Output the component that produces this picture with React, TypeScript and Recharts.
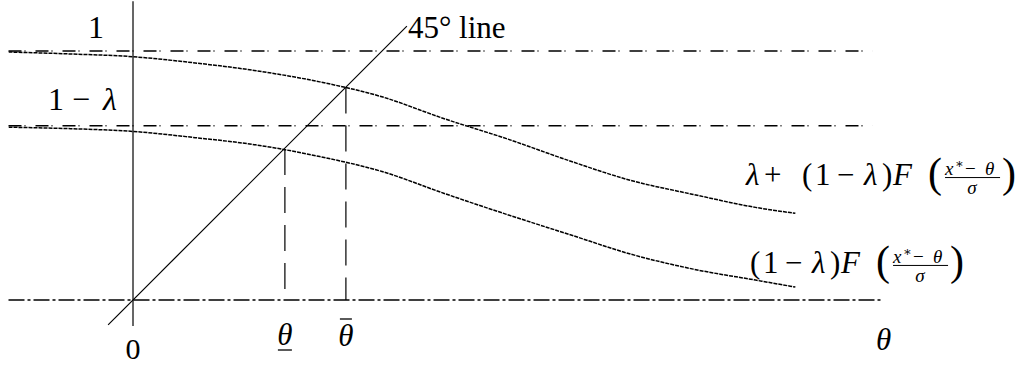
import { LineChart, Line, XAxis, YAxis, ReferenceLine, ReferenceDot } from "recharts"

// values (theta on x, probability on y)
const thetaGrid = [-0.5, -0.25, 0, 0.25, 0.5, 0.75, 1.0, 1.25, 1.5, 1.75, 2.0, 2.25, 2.5, 2.66]
const upperValues = [0.996, 0.988, 0.977, 0.952, 0.92, 0.876, 0.816, 0.728, 0.648, 0.56, 0.48, 0.424, 0.372, 0.348]
const lowerValues = [0.694, 0.688, 0.677, 0.652, 0.622, 0.576, 0.516, 0.428, 0.344, 0.264, 0.184, 0.124, 0.08, 0.052]
const diagonalEnds = [-0.1, 1.1]

const levelOne = 1
const levelOneMinusLambda = 0.7
const thetaLow = 0.61
const thetaLowLevel = 0.606
const thetaHigh = 0.855
const thetaHighLevel = 0.853

const thetaAxisRange = [-0.5, 3.01]
const levelRange = [-0.5, 2.97]
const verticalAxisRange = [-0.104, 1.2]
const curveEnd = 2.66

const upperData = thetaGrid.map((x, i) => ({ x, y: upperValues[i] }))
const lowerData = thetaGrid.map((x, i) => ({ x, y: lowerValues[i] }))
const diagonalData = diagonalEnds.map((v) => ({ x: v, y: v }))

const serif = { fontFamily: "Liberation Serif, DejaVu Serif, serif" }
const T = { fill: "#000", style: serif }

function FracTail({ x0 }: { x0: number }) {
  return (
    <g transform={`translate(${x0},0)`}>
      <text x={0} y={0} fontSize={31} {...T}>(</text>
      <text x={13} y={0} fontSize={31} {...T}>1</text>
      <text x={35} y={0} fontSize={31} {...T}>−</text>
      <text x={62} y={0} fontSize={31} fontStyle="italic" {...T}>λ</text>
      <text x={80} y={0} fontSize={31} {...T}>)</text>
      <text x={91} y={0} fontSize={31} fontStyle="italic" {...T}>F</text>
      <text x={126} y={2} fontSize={42} {...T}>(</text>
      <text x={143} y={-10} fontSize={19} fontStyle="italic" {...T}>x</text>
      <text x={153} y={-17} fontSize={13} {...T}>∗</text>
      <text x={163} y={-10} fontSize={19} {...T}>−</text>
      <text x={183} y={-10} fontSize={19} fontStyle="italic" {...T}>θ</text>
      <line x1={143} x2={198} y1={-7.5} y2={-7.5} stroke="#000" strokeWidth={1} />
      <text x={170} y={9} fontSize={19} fontStyle="italic" textAnchor="middle" {...T}>σ</text>
      <text x={200} y={2} fontSize={42} {...T}>)</text>
    </g>
  )
}

const at = (dx: number, dy: number, body: React.ReactNode) => (p: any) => (
  <g transform={`translate(${p.cx + dx},${p.cy + dy})`}>{body}</g>
)

export default function App() {
  return (
    <div style={{ position: "absolute", left: 0, top: 0 }}>
      <LineChart width={1019} height={367} margin={{ top: 1.2, right: 134, bottom: 17.2, left: 8.5 }}>
        <XAxis type="number" dataKey="x" domain={[-0.5, 3.02]} hide allowDataOverflow />
        <YAxis type="number" dataKey="y" domain={[-0.2, 1.2]} hide allowDataOverflow />

        <ReferenceLine
          segment={[{ x: 0, y: verticalAxisRange[0] }, { x: 0, y: verticalAxisRange[1] }]}
          stroke="#000"
          strokeWidth={1.2}
        />
        <ReferenceLine
          segment={[{ x: thetaAxisRange[0], y: 0 }, { x: thetaAxisRange[1], y: 0 }]}
          stroke="#000"
          strokeWidth={1.5}
          strokeDasharray="16 3 3 3"
        />
        <ReferenceLine
          segment={[{ x: levelRange[0], y: levelOne }, { x: levelRange[1], y: levelOne }]}
          stroke="#000"
          strokeWidth={1.4}
          strokeDasharray="13 3 1 10"
        />
        <ReferenceLine
          segment={[{ x: levelRange[0], y: levelOneMinusLambda }, { x: levelRange[1], y: levelOneMinusLambda }]}
          stroke="#000"
          strokeWidth={1.4}
          strokeDasharray="13 3 1 10"
        />
        <ReferenceLine
          segment={[{ x: thetaLow, y: thetaLowLevel }, { x: thetaLow, y: 0 }]}
          stroke="#000"
          strokeWidth={1.2}
          strokeDasharray="26 12"
        />
        <ReferenceLine
          segment={[{ x: thetaHigh, y: thetaHighLevel }, { x: thetaHigh, y: 0 }]}
          stroke="#000"
          strokeWidth={1.2}
          strokeDasharray="26 12"
        />

        <Line data={diagonalData} dataKey="y" type="linear" stroke="#000" strokeWidth={1.2} dot={false} activeDot={false} isAnimationActive={false} />
        <Line data={upperData} dataKey="y" type="monotone" stroke="#000" strokeWidth={1.5} strokeDasharray="4 1" dot={false} activeDot={false} isAnimationActive={false} />
        <Line data={lowerData} dataKey="y" type="monotone" stroke="#000" strokeWidth={1.5} strokeDasharray="4 1" dot={false} activeDot={false} isAnimationActive={false} />

        <ReferenceDot x={0} y={levelOne} r={0} ifOverflow="visible"
          shape={at(-37, -13, <text fontSize={32} textAnchor="middle" {...T}>1</text>)} />
        <ReferenceDot x={0} y={levelOneMinusLambda} r={0} ifOverflow="visible"
          shape={at(-85, -15.7, <>
            <text x={0} fontSize={32} {...T}>1</text>
            <text x={24} fontSize={32} {...T}>−</text>
            <text x={55} fontSize={32} fontStyle="italic" {...T}>λ</text>
          </>)} />
        <ReferenceDot x={diagonalEnds[1]} y={diagonalEnds[1]} r={0} ifOverflow="visible"
          shape={at(1, 12, <text fontSize={31} {...T}>45° line</text>)} />
        <ReferenceDot x={0} y={0} r={0} ifOverflow="visible"
          shape={at(0, 59, <text fontSize={30} textAnchor="middle" {...T}>0</text>)} />
        <ReferenceDot x={thetaLow} y={0} r={0} ifOverflow="visible"
          shape={at(0, 45, <>
            <text fontSize={31} fontStyle="italic" textAnchor="middle" {...T}>θ</text>
            <line x1={-7} x2={7} y1={5} y2={5} stroke="#000" strokeWidth={1.3} />
          </>)} />
        <ReferenceDot x={thetaHigh} y={0} r={0} ifOverflow="visible"
          shape={at(0, 46, <>
            <text fontSize={31} fontStyle="italic" textAnchor="middle" {...T}>θ</text>
            <line x1={-6} x2={6} y1={-27} y2={-27} stroke="#000" strokeWidth={1.3} />
          </>)} />
        <ReferenceDot x={thetaAxisRange[1]} y={0} r={0} ifOverflow="visible"
          shape={at(1, 50, <text fontSize={31} fontStyle="italic" textAnchor="middle" {...T}>θ</text>)} />
        <ReferenceDot x={curveEnd} y={upperValues[upperValues.length - 1]} r={0} ifOverflow="visible"
          shape={at(-49.3, -28.3, <>
            <text x={0} fontSize={31} fontStyle="italic" {...T}>λ</text>
            <text x={18} fontSize={31} {...T}>+</text>
            <FracTail x0={56} />
          </>)} />
        <ReferenceDot x={curveEnd} y={lowerValues[lowerValues.length - 1]} r={0} ifOverflow="visible"
          shape={at(-45.3, -14.1, <FracTail x0={0} />)} />
      </LineChart>
    </div>
  )
}
